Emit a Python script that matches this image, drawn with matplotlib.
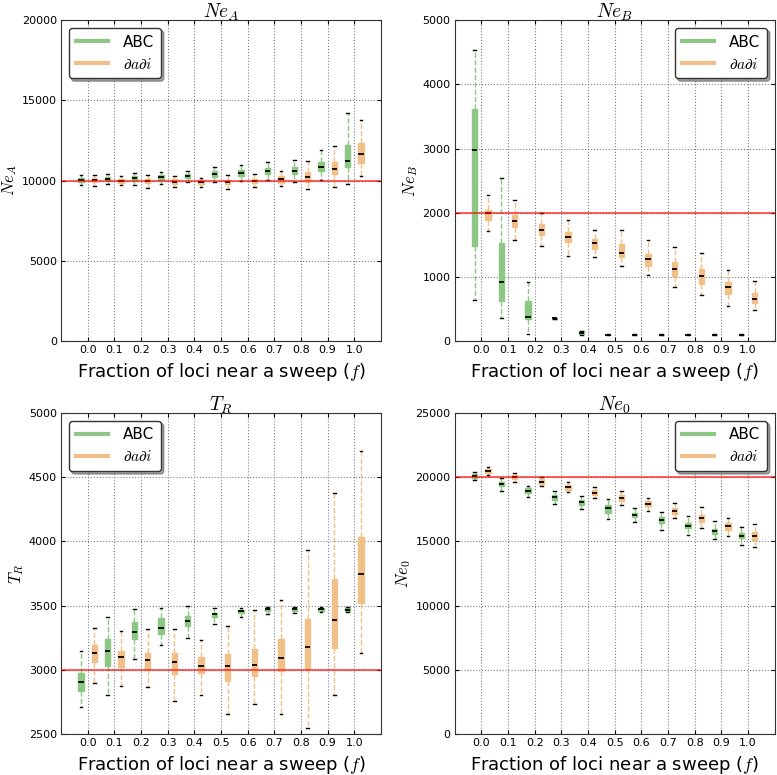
import numpy as np
import matplotlib
matplotlib.use("Agg")
import matplotlib.pyplot as plt
from matplotlib.lines import Line2D

plt.rcParams['mathtext.fontset'] = 'cm'
plt.rcParams['font.family'] = 'DejaVu Sans'

# fraction of loci near a sweep
f_labels = ['0.0', '0.1', '0.2', '0.3', '0.4', '0.5', '0.6', '0.7', '0.8', '0.9', '1.0']

# box stats per f: [whisker low, q1, median, q3, whisker high]
nea_abc = [[9750, 9920, 10030, 10180, 10380], [9800, 9950, 10080, 10200, 10430],
           [9750, 10000, 10180, 10300, 10480], [9800, 10030, 10200, 10320, 10540],
           [9920, 10180, 10300, 10430, 10580], [9940, 10250, 10400, 10580, 10870],
           [9960, 10310, 10490, 10660, 11000], [10020, 10430, 10620, 10800, 11140],
           [9900, 10430, 10600, 10830, 11260], [10040, 10620, 10850, 11140, 11900],
           [9800, 10850, 11200, 12200, 14220]]
nea_dadi = [[9690, 9920, 10020, 10150, 10330], [9710, 9840, 9950, 10100, 10270],
            [9560, 9830, 9960, 10080, 10350], [9590, 9790, 9940, 10080, 10310],
            [9590, 9810, 9920, 10040, 10190], [9500, 9790, 9920, 10040, 10370],
            [9630, 9830, 9980, 10100, 10420], [9690, 9880, 10080, 10290, 10620],
            [9480, 9940, 10250, 10560, 11250], [9630, 10410, 10710, 11180, 12160],
            [10310, 11080, 11640, 12360, 13780]]

neb_abc = [[635, 1480, 2970, 3610, 4530], [355, 625, 915, 1530, 2545],
           [105, 337, 370, 620, 915], [345, 350, 355, 360, 365],
           [100, 105, 125, 155, 165], [95, 98, 100, 102, 105],
           [95, 98, 100, 102, 105], [95, 98, 100, 102, 105],
           [95, 98, 100, 102, 105], [95, 98, 100, 102, 105],
           [95, 98, 100, 102, 105]]
neb_dadi = [[1710, 1885, 1994, 2050, 2270], [1573, 1780, 1874, 1963, 2196],
            [1485, 1656, 1729, 1817, 1989], [1329, 1537, 1620, 1692, 1885],
            [1303, 1438, 1521, 1589, 1734], [1173, 1303, 1376, 1516, 1724],
            [1033, 1173, 1272, 1355, 1578], [841, 1018, 1127, 1225, 1469],
            [711, 893, 1012, 1127, 1376], [545, 732, 836, 924, 1106],
            [488, 587, 660, 748, 935]]

tr_abc = [[2713, 2837, 2902, 2972, 3146], [2806, 3031, 3148, 3238, 3412],
          [3083, 3236, 3295, 3368, 3474], [3194, 3277, 3329, 3401, 3479],
          [3251, 3337, 3383, 3417, 3495], [3355, 3407, 3432, 3443, 3479],
          [3414, 3440, 3456, 3469, 3484], [3438, 3458, 3477, 3484, 3492],
          [3445, 3458, 3477, 3484, 3490], [3450, 3458, 3474, 3484, 3492],
          [3450, 3455, 3469, 3482, 3490]]
tr_dadi = [[2896, 3057, 3132, 3194, 3326], [2873, 3023, 3098, 3148, 3303],
           [2868, 3000, 3073, 3132, 3316], [2754, 2966, 3057, 3127, 3319],
           [2803, 2977, 3031, 3101, 3233], [2656, 2912, 3026, 3122, 3337],
           [2731, 2953, 3036, 3161, 3466], [2658, 2992, 3091, 3236, 3544],
           [2549, 3005, 3174, 3394, 3932], [2806, 3168, 3389, 3704, 4375],
           [3127, 3521, 3749, 4033, 4707]]

ne0_abc = [[19770, 19920, 20100, 20285, 20390], [18890, 19275, 19460, 19660, 19970],
           [18420, 18760, 18940, 19150, 19350], [17900, 18190, 18450, 18600, 18890],
           [17510, 17850, 18030, 18190, 18550], [16760, 17200, 17560, 17820, 18290],
           [16530, 16870, 17050, 17200, 17560], [15880, 16430, 16660, 16870, 17310],
           [15520, 16040, 16220, 16400, 16940], [15160, 15600, 15780, 15960, 16560],
           [14690, 15230, 15420, 15620, 16090]]
ne0_dadi = [[20180, 20310, 20470, 20600, 20780], [19640, 19840, 20030, 20180, 20360],
            [19330, 19480, 19660, 19840, 20000], [18810, 18990, 19200, 19400, 19640],
            [18370, 18600, 18780, 18990, 19220], [17820, 18160, 18370, 18580, 18890],
            [17380, 17720, 17930, 18160, 18340], [16790, 17150, 17380, 17590, 18010],
            [16010, 16500, 16810, 17070, 17700], [15390, 15910, 16220, 16430, 16840],
            [14540, 15080, 15440, 15730, 16320]]

panels = [
    (r'$Ne_A$', nea_abc, nea_dadi, 10000, (0, 20000), 5000, 'upper left'),
    (r'$Ne_B$', neb_abc, neb_dadi, 2000, (0, 5000), 1000, 'upper right'),
    (r'$T_R$', tr_abc, tr_dadi, 3000, (2500, 5000), 500, 'upper left'),
    (r'$Ne_0$', ne0_abc, ne0_dadi, 20000, (0, 25000), 5000, 'upper right'),
]

green = '#8cc783'
orange = '#f0c088'


def to_stats(rows):
    return [dict(whislo=r[0], q1=r[1], med=r[2], q3=r[3], whishi=r[4]) for r in rows]


def draw_boxes(ax, rows, pos, color):
    ax.bxp(to_stats(rows), positions=pos, widths=0.2, capwidths=0.1,
           showfliers=False, patch_artist=True,
           boxprops=dict(facecolor=color, edgecolor=color, linewidth=1),
           whiskerprops=dict(color=color, linestyle='--', linewidth=1),
           capprops=dict(color='black', linewidth=1),
           medianprops=dict(color='black', linewidth=1.3))


fig, axes = plt.subplots(2, 2, figsize=(7.77, 7.75), dpi=100)
fig.subplots_adjust(left=0.0785, right=0.997, top=0.974, bottom=0.053,
                    wspace=0.231, hspace=0.224)

x = np.arange(1, len(f_labels) + 1)

for ax, (title, abc, dadi, truth, ylim, ystep, loc) in zip(axes.flat, panels):
    draw_boxes(ax, abc, x - 0.25, green)
    draw_boxes(ax, dadi, x + 0.25, orange)
    ax.axhline(truth, color='red', alpha=0.6, linewidth=1.5, zorder=5)

    ax.set_xlim(0, 12)
    ax.set_xticks(x)
    ax.set_xticklabels(f_labels, fontsize=8)
    ax.set_ylim(*ylim)
    ax.set_yticks(np.arange(ylim[0], ylim[1] + 1, ystep))
    ax.tick_params(axis='y', labelsize=8)
    ax.tick_params(direction='in', length=3, top=True, right=True, pad=3)
    ax.grid(True, linestyle=':', color='gray', linewidth=0.8)
    ax.set_axisbelow(True)
    for sp in ax.spines.values():
        sp.set_color('#333333')

    ax.set_title(title, fontsize=14, pad=1.5)
    ax.set_ylabel(title, fontsize=12, labelpad=2)
    ax.set_xlabel(r'Fraction of loci near a sweep ($f$)', fontsize=13)

    handles = [Line2D([], [], color=green, linewidth=3),
               Line2D([], [], color=orange, linewidth=3)]
    leg = ax.legend(handles, ['ABC', r'$\partial a \partial i$'], loc=loc,
                    fontsize=11, fancybox=True, shadow=True, handlelength=2.1,
                    borderpad=0.45, labelspacing=0.45, handletextpad=1.0)
    leg.get_frame().set_edgecolor('#333333')
    leg.get_frame().set_alpha(1)

fig.savefig('out.png', dpi=100)
